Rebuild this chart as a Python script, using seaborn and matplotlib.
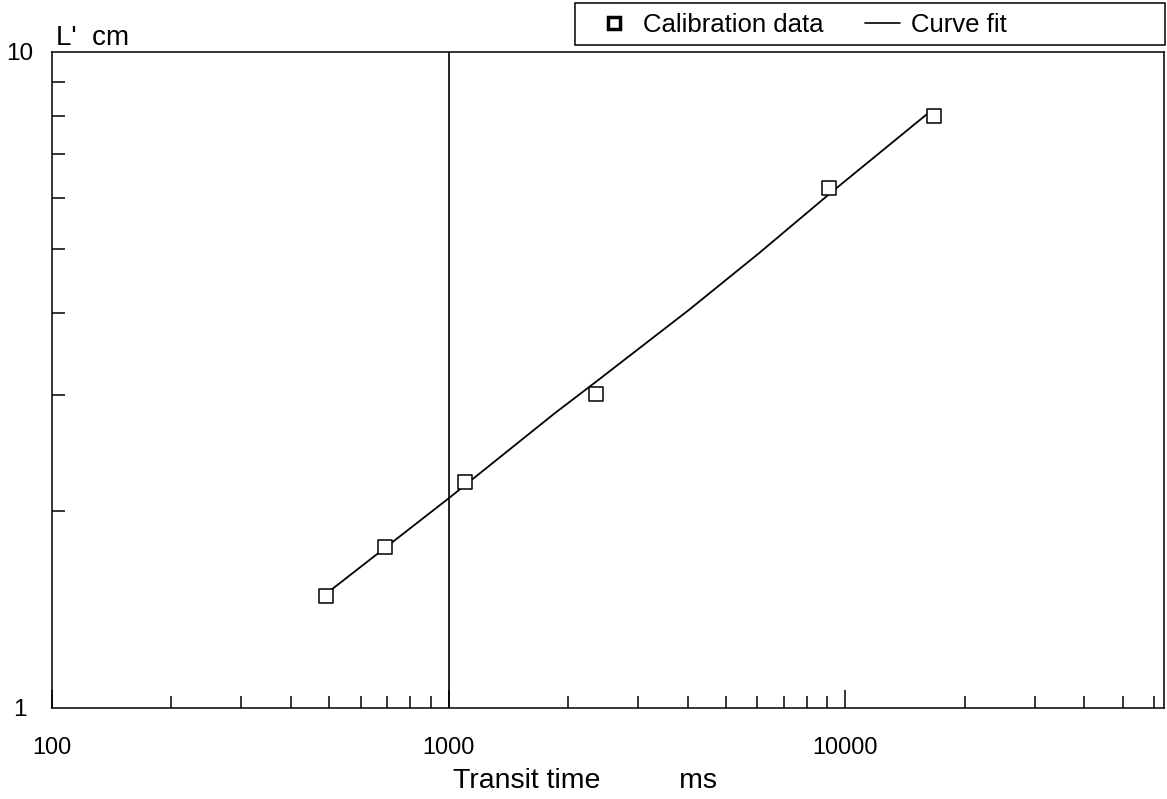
import numpy as np
import matplotlib
matplotlib.use("Agg")
import matplotlib.pyplot as plt
import seaborn as sns
from matplotlib.lines import Line2D
from matplotlib.patches import Rectangle
from matplotlib.ticker import LogLocator, NullFormatter

# calibration points (transit time in ms, L' in cm)
calib_time = [490, 690, 1100, 2350, 9100, 16700]
calib_len = [1.483, 1.76, 2.208, 3.01, 6.20, 7.99]

# curve fit
fit_time = [490, 1000, 1850, 2330, 4030, 6050, 9250, 16150]
fit_len = [1.492, 2.088, 2.814, 3.13, 4.044, 4.934, 6.124, 8.066]

x_ticks = [100, 1000, 10000]
x_tick_labels = ["100", "1000", "10000"]
y_ticks = [1, 10]
y_tick_labels = ["1", "10"]

sns.set_style("white")
plt.rcParams["font.family"] = ["Liberation Sans", "DejaVu Sans"]
plt.rcParams.update({"text.color": "black", "axes.labelcolor": "black",
                     "xtick.color": "black", "ytick.color": "black"})

W, H = 1167, 799
fig = plt.figure(figsize=(W / 100, H / 100), dpi=100)
ax = fig.add_axes([52 / W, (H - 708) / H, 1112 / W, 656 / H])

# vertical reference line at 1000 ms
ax.axvline(1000, color="black", lw=1.2, zorder=1)

sns.lineplot(x=fit_time, y=fit_len, color="black", lw=1.3, sort=True,
             estimator=None, ax=ax, zorder=2)
sns.scatterplot(x=calib_time, y=calib_len, marker="s", s=95, color="white",
                edgecolor="black", linewidth=1.1, ax=ax, zorder=3)

ax.set_xscale("log")
ax.set_yscale("log")
ax.set_xlim(100, 63500)
ax.set_ylim(1, 10)

for s in ax.spines.values():
    s.set_visible(True)
    s.set_color("black")
    s.set_linewidth(1.1)

ax.set_xticks(x_ticks, labels=x_tick_labels)
ax.set_yticks(y_ticks, labels=y_tick_labels)
ax.xaxis.set_minor_locator(LogLocator(base=10, subs=np.arange(2, 10)))
ax.yaxis.set_minor_locator(LogLocator(base=10, subs=np.arange(2, 10)))
ax.xaxis.set_minor_formatter(NullFormatter())
ax.yaxis.set_minor_formatter(NullFormatter())

ax.tick_params(which="both", direction="in", colors="black", width=1.1,
               top=False, right=False, bottom=True, left=True)
ax.tick_params(axis="x", which="major", length=13, pad=20.5, labelsize=16.8)
ax.tick_params(axis="x", which="minor", length=8.5)
ax.tick_params(axis="y", which="major", length=0, pad=23, labelsize=17.5)
ax.tick_params(axis="y", which="minor", length=9.5)
for tl in ax.get_yticklabels():
    tl.set_horizontalalignment("center")

ax.set_xlabel("Transit time          ms", fontsize=20.5, ha="left", va="baseline")
ax.xaxis.set_label_coords((453 - 52) / 1112, -(788.5 - 708) / 656)
ax.set_ylabel("")
ax.text(0.004, 1 + 7 / 656, "L'  cm", transform=ax.transAxes, fontsize=20,
        ha="left", va="baseline")

# legend sits in its own box above the plot
handles = [
    Line2D([], [], marker="s", ls="none", mfc="white", mec="black", mew=2.5, ms=8.5),
    Line2D([], [], color="black", lw=1.2),
]
fig.legend(handles, ["Calibration data", "Curve fit"], loc="center left",
           bbox_to_anchor=(597 / W, (H - 25) / H), ncol=2, frameon=False,
           fontsize=18.5, handlelength=1.36, handletextpad=0.43,
           columnspacing=1.63, borderpad=0, borderaxespad=0)
fig.add_artist(Rectangle((575 / W, (H - 45) / H), 590 / W, 42 / H,
                         transform=fig.transFigure, fill=False,
                         ec="black", lw=1.1))

fig.savefig("out.png", dpi=100)
